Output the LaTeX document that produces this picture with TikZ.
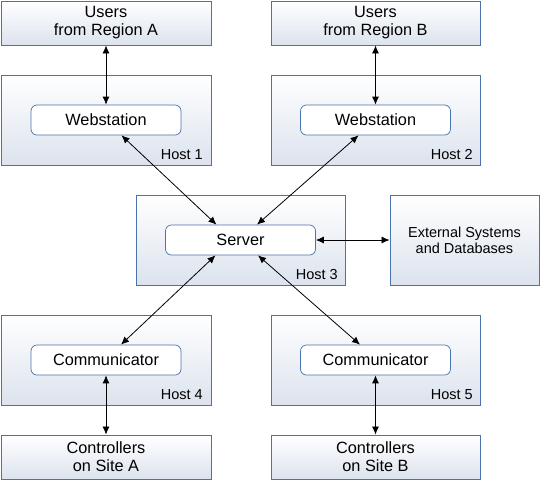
\documentclass[tikz,border=0pt]{standalone}
\usepackage{fontspec}
\setmainfont{Liberation Sans}
\usetikzlibrary{arrows.meta}
\definecolor{bord}{HTML}{4A72AC}
\definecolor{shade}{HTML}{DCE3EE}
\tikzset{
  outer/.style={draw=bord, line width=0.9pt, top color=white, bottom color=shade,
    minimum width=210pt, minimum height=90pt, inner sep=0pt},
  endbox/.style={draw=bord, line width=0.9pt, top color=white, bottom color=shade,
    minimum width=210pt, minimum height=44pt, inner sep=0pt, align=center,
    font=\fontsize{16.3}{18}\selectfont},
  inner/.style={draw=bord, line width=0.7pt, fill=white, rounded corners=6pt,
    minimum width=150pt, minimum height=30pt, inner sep=0pt,
    font=\fontsize{16.3}{18}\selectfont},
  hostlbl/.style={anchor=south east, inner sep=0pt, font=\fontsize{14.5}{16}\selectfont},
  link/.style={line width=0.8pt, {Latex[length=8pt,width=7pt]}-{Latex[length=8pt,width=7pt]}}
}
\begin{document}
\begin{tikzpicture}[x=1pt,y=-1pt]
\useasboundingbox (0,0) rectangle (540,480);
% top row
\node[endbox] (usersA) at (106,23) {Users\\from Region A};
\node[endbox, minimum width=209pt] (usersB) at (375.5,23) {Users\\from Region B};
\node[outer] (host1) at (106,120) {};
\node[outer, minimum width=209pt] (host2) at (375.5,120) {};
\node[inner] (webA) at (106,120) {Webstation};
\node[inner] (webB) at (375.5,120) {Webstation};
\node[hostlbl] (h1) at (203,160) {Host 1};
\node[hostlbl] (h2) at (473,160) {Host 2};
% middle
\node[outer, minimum width=209pt] (host3) at (240.5,240) {};
\node[inner] (server) at (240.5,240) {Server};
\node[hostlbl] (h3) at (338,280) {Host 3};
\node[outer, minimum width=149pt, align=center, font=\fontsize{14.5}{16}\selectfont] (ext) at (464.5,240) {External Systems\\and Databases};
% bottom
\node[outer] (host4) at (106,360) {};
\node[outer, minimum width=209pt] (host5) at (375.5,360) {};
\node[inner] (comA) at (106,360) {Communicator};
\node[inner] (comB) at (375.5,360) {Communicator};
\node[hostlbl] (h4) at (203,400) {Host 4};
\node[hostlbl] (h5) at (473,400) {Host 5};
\node[endbox] (ctrlA) at (106,457) {Controllers\\on Site A};
\node[endbox, minimum width=209pt] (ctrlB) at (375.5,457) {Controllers\\on Site B};
% connectors
\draw[link] (usersA.south) -- (webA.north);
\draw[link] (usersB.south) -- (webB.north);
\draw[link] ([xshift=15.5pt]webA.south) -- ([xshift=-24pt]server.north);
\draw[link] ([xshift=-17pt]webB.south) -- ([xshift=16.5pt]server.north);
\draw[link] (server.east) -- (ext.west);
\draw[link] ([xshift=-25pt]server.south) -- ([xshift=15pt]comA.north);
\draw[link] ([xshift=17.5pt]server.south) -- ([xshift=-15.5pt]comB.north);
\draw[link] (comA.south) -- (ctrlA.north);
\draw[link] (comB.south) -- (ctrlB.north);
\end{tikzpicture}
\end{document}
